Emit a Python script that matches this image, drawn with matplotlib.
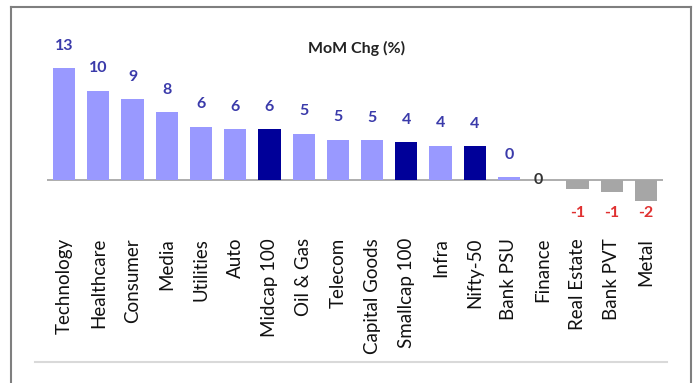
import matplotlib
matplotlib.use("Agg")
import matplotlib.pyplot as plt
from matplotlib.lines import Line2D

# Monthly sector returns (%)
sectors = ["Technology", "Healthcare", "Consumer", "Media", "Utilities", "Auto",
           "Midcap 100", "Oil & Gas", "Telecom", "Capital Goods", "Smallcap 100",
           "Infra", "Nifty-50", "Bank PSU", "Finance", "Real Estate", "Bank PVT", "Metal"]
mom_chg = [13.0, 10.4, 9.4, 7.9, 6.2, 5.9, 5.9, 5.4, 4.7, 4.6, 4.4,
           4.0, 3.9, 0.3, 0.0, -1.05, -1.4, -2.4]
benchmarks = ["Midcap 100", "Smallcap 100", "Nifty-50"]

LIGHT = "#9999ff"
DARK = "#000099"
GREY = "#a6a6a6"

W, H = 695, 383
fig = plt.figure(figsize=(W / 100, H / 100), dpi=100)
plt.rcParams["font.family"] = ["Lato", "DejaVu Sans"]

def px_box(x0, y0, x1, y1):
    return [x0 / W, 1 - y1 / H, (x1 - x0) / W, (y1 - y0) / H]

# axes: baseline at y=180 px, 8.6 px per percentage point
ax = fig.add_axes(px_box(47, 20, 663, 230))
ppu = 8.6
ax.set_ylim(-(230 - 180) / ppu, (180 - 20) / ppu)
ax.set_xlim(-0.5, len(sectors) - 0.5)
ax.axis("off")

colors = []
for s, v in zip(sectors, mom_chg):
    if v < 0:
        colors.append(GREY)
    elif s in benchmarks:
        colors.append(DARK)
    else:
        colors.append(LIGHT)

x = list(range(len(sectors)))
ax.bar(x, mom_chg, width=0.65, color=colors, zorder=2)
ax.axhline(0, color="#a0a0a0", lw=1.2, zorder=1)

for xi, s, v in zip(x, sectors, mom_chg):
    label = f"{round(v):d}"
    if s == "Finance":
        ax.text(xi - 0.15, v, label, ha="center", va="center", fontsize=11.5,
                fontweight="bold", color="#333333", zorder=3)
    elif v < 0:
        ax.text(xi, -3.8, label, ha="center", va="center", fontsize=11.5,
                fontweight="bold", color="#e03030")
    else:
        ax.annotate(label, (xi, v), xytext=(0, 16), textcoords="offset points",
                    ha="center", va="center", fontsize=11.5, fontweight="bold",
                    color="#3a3aaa")
    # category label, rotated, hanging below the axis
    ax.annotate(s, (xi, 0), xytext=(0, -58 * 0.72), textcoords="offset points",
                rotation=90, ha="center", va="top", fontsize=13.5, color="#111111",
                annotation_clip=False)

fig.text(357 / W, 1 - 48 / H, "MoM Chg (%)", ha="center", va="center",
         fontsize=11.5, fontweight="bold", color="#222222")

# outer frame (open at the bottom) and separator line
fc = "#7f7f7f"
fig.add_artist(Line2D([11 / W, 11 / W], [0, 1 - 7 / H], color=fc, lw=1.5))
fig.add_artist(Line2D([691 / W, 691 / W], [0, 1 - 7 / H], color=fc, lw=1.5))
fig.add_artist(Line2D([11 / W, 691 / W], [1 - 7 / H, 1 - 7 / H], color=fc, lw=1.5))
fig.add_artist(Line2D([35 / W, 667 / W], [1 - 362 / H, 1 - 362 / H], color="#d9d9d9", lw=1.5))

fig.savefig("out.png", dpi=100)
